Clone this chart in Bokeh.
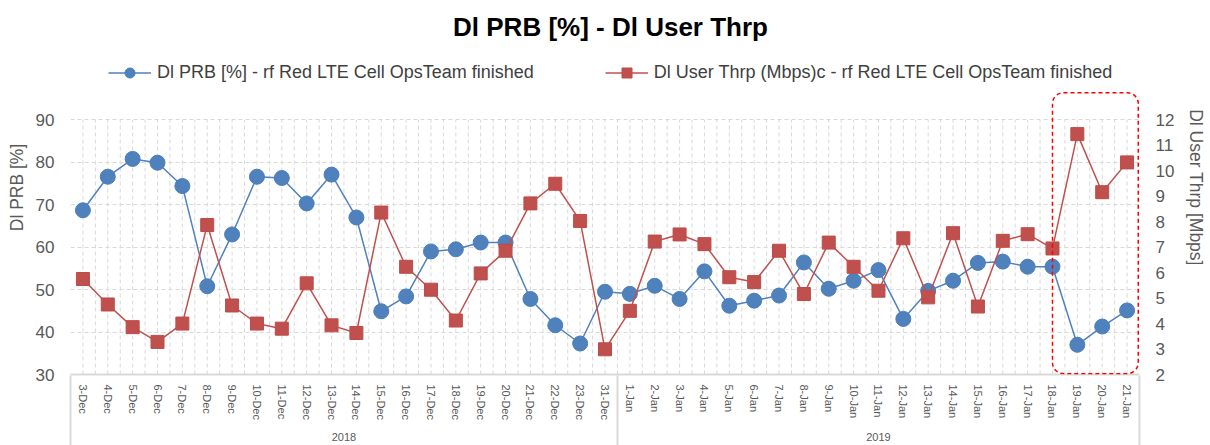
from bokeh.plotting import figure
from bokeh.models import (Range1d, LinearAxis, FixedTicker, Legend,
                          LegendItem, BoxAnnotation, ColumnDataSource, Label)
from bokeh.embed import file_html
from bokeh.resources import INLINE

# ---------------- data ----------------
years = ["2018", "2019"]
dec_days = ["3-Dec", "4-Dec", "5-Dec", "6-Dec", "7-Dec", "8-Dec", "9-Dec", "10-Dec",
            "11-Dec", "12-Dec", "13-Dec", "14-Dec", "15-Dec", "16-Dec", "17-Dec",
            "18-Dec", "19-Dec", "20-Dec", "21-Dec", "22-Dec", "23-Dec", "31-Dec"]
jan_days = ["1-Jan", "2-Jan", "3-Jan", "4-Jan", "5-Jan", "6-Jan", "7-Jan", "8-Jan",
            "9-Jan", "10-Jan", "11-Jan", "12-Jan", "13-Jan", "14-Jan", "15-Jan",
            "16-Jan", "17-Jan", "18-Jan", "19-Jan", "20-Jan", "21-Jan"]

prb = [68.7, 76.6, 80.8, 79.9, 74.4, 50.8, 63.0, 76.6, 76.3, 70.3, 77.1, 67.0,
       44.9, 48.4, 59.0, 59.5, 61.1, 61.1, 47.8, 41.6, 37.3, 49.5,
       49.0, 50.9, 47.8, 54.3, 46.2, 47.4, 48.6, 56.4, 50.2, 52.1, 54.6, 43.1,
       49.7, 52.1, 56.3, 56.6, 55.4, 55.4, 37.0, 41.3, 45.1]
thrp = [5.75, 4.75, 3.86, 3.28, 4.00, 7.87, 4.71, 4.00, 3.80, 5.58, 3.93, 3.63,
        8.36, 6.23, 5.33, 4.12, 5.97, 6.86, 8.72, 9.49, 8.03, 2.99,
        4.50, 7.22, 7.50, 7.12, 5.82, 5.63, 6.86, 5.16, 7.18, 6.23, 5.29, 7.35,
        5.03, 7.55, 4.67, 7.25, 7.51, 6.95, 11.44, 9.16, 10.33]

left_ticks = [30, 40, 50, 60, 70, 80, 90]
right_ticks = [2, 3, 4, 5, 6, 7, 8, 9, 10, 11, 12]

title_text = "Dl PRB [%] - Dl User Thrp"
prb_label = "Dl PRB [%] - rf Red LTE Cell OpsTeam finished"
thrp_label = "Dl User Thrp (Mbps)c - rf Red LTE Cell OpsTeam finished"
left_axis_label = "Dl PRB [%]"
right_axis_label = "Dl User Thrp [Mbps]"

# ---------------- styling / layout ----------------
FONT = "Liberation Sans"
BLUE = "#4F81BD"
RED = "#C0504D"
GRID = "#D9D9D9"
TXT = "#595959"

W, H = 1210, 445
MB_L, MB_R, MB_B = 70, 71, 69
frame_h = H - MB_B                 # frame runs from the top of the figure
px_per_unit = 256 / 60.0           # left axis pixels per unit
left_top = 30 + frame_h / px_per_unit
right_top = 2 + (left_top - 30) / 6.0

days = dec_days + jan_days
n = len(days)
group_sizes = [len(dec_days), len(jan_days)]
xpos = [i + 0.5 for i in range(n)]   # category slots

source = ColumnDataSource(dict(x=xpos, day=days, prb=prb, thrp=thrp))

p = figure(width=W, height=H, title=None,
           x_range=Range1d(0, n), y_range=Range1d(30, left_top),
           output_backend="svg", toolbar_location=None,
           min_border_left=MB_L, min_border_right=MB_R,
           min_border_top=0, min_border_bottom=MB_B)
p.extra_y_ranges = {"thr": Range1d(2, right_top)}
p.outline_line_color = None
p.background_fill_color = "white"
p.border_fill_color = "white"

# grids
p.xgrid.visible = False
p.ygrid.ticker = FixedTicker(ticks=left_ticks)
p.ygrid.grid_line_color = GRID
p.ygrid.grid_line_dash = "4 3"
p.ygrid.grid_line_width = 1

xs = [0.5 * i for i in range(1, 2 * n)]
p.segment(x0=xs, y0=[left_ticks[0]] * len(xs), x1=xs, y1=[left_ticks[-1]] * len(xs),
          line_color=GRID, line_dash="4 3", line_width=1)

# y axes
ya = p.yaxis[0]
ya.ticker = FixedTicker(ticks=left_ticks)
ya.axis_label = left_axis_label
ya.axis_label_standoff = 6
right = LinearAxis(y_range_name="thr", ticker=FixedTicker(ticks=right_ticks),
                   axis_label=right_axis_label)
right.axis_label_standoff = 9
p.add_layout(right, "right")

for ax in (ya, right):
    ax.axis_line_color = None
    ax.major_tick_line_color = None
    ax.minor_tick_line_color = None
    ax.major_tick_out = 0
    ax.minor_tick_out = 0
    ax.major_label_text_font = FONT
    ax.major_label_text_font_size = "17px"
    ax.major_label_text_color = TXT
    ax.major_label_standoff = 16
    ax.axis_label_text_font = FONT
    ax.axis_label_text_font_size = "17.5px"
    ax.axis_label_text_font_style = "normal"
    ax.axis_label_text_color = TXT

# x axis: day labels
xa = p.xaxis[0]
xa.ticker = FixedTicker(ticks=xpos)
xa.major_label_overrides = {x: d for x, d in zip(xpos, days)}
xa.axis_line_color = GRID
xa.axis_line_width = 2
xa.major_tick_line_color = None
xa.minor_tick_line_color = None
xa.major_tick_out = 0
xa.minor_tick_out = 0
xa.major_label_orientation = "vertical"
xa.major_label_text_font = FONT
xa.major_label_text_font_size = "11px"
xa.major_label_text_color = TXT
xa.major_label_standoff = 10

# x axis: year labels
year_centers = [group_sizes[0] / 2, group_sizes[0] + group_sizes[1] / 2]
yax = LinearAxis(ticker=FixedTicker(ticks=year_centers),
                 major_label_overrides={c: y for c, y in zip(year_centers, years)})
yax.axis_line_color = None
yax.major_tick_line_color = None
yax.minor_tick_line_color = None
yax.major_tick_out = 0
yax.minor_tick_out = 0
yax.major_label_text_font = FONT
yax.major_label_text_font_size = "11px"
yax.major_label_text_color = TXT
yax.major_label_standoff = 10
p.add_layout(yax, "below")

# x axis: group box lines (ticks pointing up to the plot frame)
bounds = [0.02, float(group_sizes[0]), n - 0.02]
sep = LinearAxis(ticker=FixedTicker(ticks=bounds),
                 major_label_overrides={b: "" for b in bounds})
sep.axis_line_color = None
sep.minor_tick_line_color = None
sep.major_tick_line_color = GRID
sep.major_tick_line_width = 2
sep.major_tick_in = 68
sep.major_tick_out = 2
sep.major_label_text_font_size = "1px"
sep.major_label_standoff = 0
p.add_layout(sep, "below")

# series
bl = p.line(x="x", y="prb", source=source, line_color=BLUE, line_width=1.5)
bs = p.scatter(x="x", y="prb", source=source, marker="circle", size=15,
               fill_color=BLUE, line_color="#4A7EBB", line_width=1)
rl = p.line(x="x", y="thrp", source=source, y_range_name="thr",
            line_color=RED, line_width=1.5)
rs = p.scatter(x="x", y="thrp", source=source, y_range_name="thr", marker="square",
               size=13, fill_color=RED, line_color="#BE4B48", line_width=1)

# red dashed highlight box
p.add_layout(BoxAnnotation(left=n - 3.5, right=n - 0.05, bottom=30.2, top=96.4,
                           fill_color=None, fill_alpha=0, line_color="#FF0000",
                           line_alpha=1.0, line_dash="4 3", line_width=1.5,
                           border_radius=11))

# title (inside the top strip of the frame)
p.add_layout(Label(x=540, y=frame_h - 28, x_units="screen", y_units="screen",
                   text=title_text, text_align="center", text_baseline="middle",
                   text_font=FONT, text_font_size="26px", text_font_style="bold",
                   text_color="black"))

legend = Legend(items=[LegendItem(label=prb_label, renderers=[bl, bs]),
                       LegendItem(label=thrp_label, renderers=[rl, rs])],
                location=(38, frame_h - 74 - 12.5), orientation="horizontal",
                glyph_width=43, glyph_height=25, label_height=25,
                label_standoff=6, spacing=71, padding=0, margin=0,
                label_text_font=FONT, label_text_font_size="18px",
                label_text_color="#404040",
                border_line_color=None, background_fill_alpha=0)
p.add_layout(legend)

open("out.html", "w").write(file_html(p, INLINE))
